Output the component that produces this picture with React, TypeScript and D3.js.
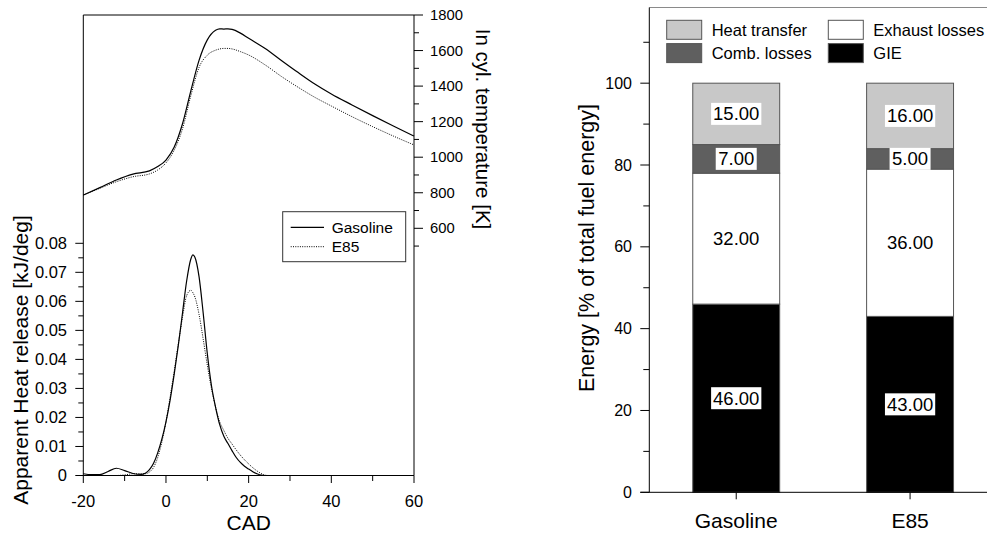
import React from "react";
import * as d3 from "d3";

// ---------- Left panel data ----------
const cadT = [-20, -16, -12, -8, -4, -2, 0, 2, 4, 6, 8, 10, 12, 13, 14, 15, 16, 18, 20, 24, 28, 32, 36, 40, 45, 50, 55, 60];
const gasTemp = [787, 829, 872, 905, 923, 947, 984, 1057, 1188, 1372, 1545, 1660, 1714, 1722, 1721, 1722, 1719, 1698, 1669, 1612, 1543, 1476, 1412, 1356, 1294, 1234, 1176, 1119];
const e85Temp = [787, 825, 862, 890, 906, 928, 968, 1040, 1160, 1345, 1505, 1574, 1602, 1609, 1612, 1612, 1609, 1594, 1575, 1519, 1453, 1393, 1337, 1288, 1228, 1172, 1119, 1069];

const cadH = [-20, -18, -16, -14, -12, -10, -8, -6, -5, -4, -3, -2, -1, 0, 1, 2, 3, 4, 5, 6, 6.5, 7, 8, 9, 10, 11, 12, 13, 14, 15, 16, 17, 18, 19, 20, 21, 22, 23, 24, 25, 30, 40, 50, 60];
const gasHRR = [0.0006, 0.0003, 0.0003, 0.0014, 0.0025, 0.0017, 0.0007, 0.0004, 0.0008, 0.002, 0.0042, 0.0078, 0.0125, 0.0185, 0.026, 0.035, 0.045, 0.056, 0.067, 0.0745, 0.076, 0.0752, 0.0685, 0.056, 0.042, 0.031, 0.0235, 0.0175, 0.0135, 0.011, 0.0085, 0.0062, 0.0045, 0.0032, 0.0022, 0.0013, 0.0006, 0.0001, 0, 0, 0, 0, 0, 0];
const e85HRR = [0, 0, 0, 0, 0, 0.0002, 0.0006, 0.0006, 0.0006, 0.0012, 0.0028, 0.0062, 0.0115, 0.0185, 0.027, 0.036, 0.0455, 0.0545, 0.062, 0.0638, 0.063, 0.0615, 0.0555, 0.047, 0.038, 0.03, 0.0235, 0.0185, 0.0155, 0.0128, 0.0108, 0.0088, 0.007, 0.0054, 0.004, 0.0027, 0.0016, 0.0007, 0.0001, 0, 0, 0, 0, 0];

const xTicks = [-20, -10, 0, 10, 20, 30, 40, 50, 60];
const hrrTicks = [0, 0.005, 0.01, 0.015, 0.02, 0.025, 0.03, 0.035, 0.04, 0.045, 0.05, 0.055, 0.06, 0.065, 0.07, 0.075, 0.08];
const tempTicks = [500, 600, 700, 800, 900, 1000, 1100, 1200, 1300, 1400, 1500, 1600, 1700, 1800];
const lineSeries = ["Gasoline", "E85"];

// ---------- Right panel data ----------
const fuels = ["Gasoline", "E85"];
const components = ["GIE", "Exhaust losses", "Comb. losses", "Heat transfer"];
const gieVals = [46, 43];
const exhaustVals = [32, 36];
const combVals = [7, 5];
const heatVals = [15, 16];
const energyTicks = [0, 10, 20, 30, 40, 50, 60, 70, 80, 90, 100, 110];
const compColors = ["#000000", "#ffffff", "#5f5f5f", "#c8c8c8"];

const FONT = "'Liberation Sans', Arial, Helvetica, sans-serif";

export default function App() {
  // left scales
  const x = d3.scaleLinear().domain([-20, 60]).range([83.3, 414]);
  const yH = d3.scaleLinear().domain([0, 0.08]).range([475.5, 243.3]);
  const yT = d3.scaleLinear().domain([600, 1800]).range([228.3, 15]);

  const tLine = d3.line<number>().x((_, i) => x(cadT[i])).y((d) => yT(d)).curve(d3.curveMonotoneX);
  const hLine = d3.line<number>().x((_, i) => x(cadH[i])).y((d) => yH(d)).curve(d3.curveMonotoneX);

  // right scales
  const xb = d3.scaleBand<string>().domain(fuels).range([649.3, 997]).paddingInner(0.5).paddingOuter(0.25);
  const yE = d3.scaleLinear().domain([0, 118.5]).range([492.3, 7.5]);

  const valsByComp = [gieVals, exhaustVals, combVals, heatVals];
  const table = fuels.map((f, i) => {
    const row: any = { fuel: f };
    components.forEach((c, k) => (row[c] = valsByComp[k][i]));
    return row;
  });
  const stacked = d3.stack<any>().keys(components)(table);

  const fmtH = (v: number) => (v === 0 ? "0" : d3.format(".2f")(v));
  const isMajor = (v: number, step: number) => Math.abs(v / step - Math.round(v / step)) < 1e-6;

  return (
    <svg width={987} height={533} style={{ position: "absolute", left: 0, top: 0, fontFamily: FONT }}>
      <rect x={0} y={0} width={987} height={533} fill="#fff" />

      {/* ===== LEFT PANEL ===== */}
      <g>
        {/* frame */}
        <line x1={x(-20)} x2={x(60)} y1={15} y2={15} stroke="#000" strokeWidth={1} />
        <line x1={x(-20)} x2={x(-20)} y1={15} y2={475.5} stroke="#000" strokeWidth={1} />
        <line x1={x(60)} x2={x(60)} y1={15} y2={475.5} stroke="#000" strokeWidth={1} />
        <line x1={x(-20)} x2={x(60)} y1={475.5} y2={475.5} stroke="#000" strokeWidth={1} />

        {/* bottom ticks */}
        {xTicks.map((t) => {
          const maj = isMajor(t, 20);
          return (
            <g key={"xt" + t}>
              <line x1={x(t)} x2={x(t)} y1={475.5} y2={475.5 + (maj ? 7.5 : 5.5)} stroke="#000" />
              {maj && (
                <text x={x(t)} y={507} fontSize={16.5} textAnchor="middle">
                  {t}
                </text>
              )}
            </g>
          );
        })}
        <text x={x(20)} y={530} fontSize={21} textAnchor="middle">CAD</text>

        {/* left HRR ticks */}
        {hrrTicks.map((t) => {
          const maj = isMajor(t, 0.01);
          return (
            <g key={"ht" + t}>
              <line x1={x(-20) - (maj ? 8 : 5)} x2={x(-20)} y1={yH(t)} y2={yH(t)} stroke="#000" />
              {maj && (
                <text x={67} y={yH(t) + 5.5} fontSize={16.5} textAnchor="end">
                  {fmtH(t)}
                </text>
              )}
            </g>
          );
        })}
        <text transform={`translate(28,360) rotate(-90)`} fontSize={21} textAnchor="middle">
          Apparent Heat release [kJ/deg]
        </text>

        {/* right temperature ticks */}
        {tempTicks.map((t) => {
          const maj = isMajor(t, 200);
          return (
            <g key={"tt" + t}>
              <line x1={x(60)} x2={x(60) + (maj ? 9 : 5)} y1={yT(t)} y2={yT(t)} stroke="#000" />
              {maj && (
                <text x={430} y={yT(t) + 5} fontSize={14.8}>
                  {t}
                </text>
              )}
            </g>
          );
        })}
        <text transform={`translate(476,129) rotate(90)`} fontSize={20.5} textAnchor="middle">
          In cyl. temperature [K]
        </text>

        {/* curves */}
        <path d={tLine(gasTemp) || ""} fill="none" stroke="#000" strokeWidth={1.2} />
        <path d={tLine(e85Temp) || ""} fill="none" stroke="#000" strokeWidth={1} strokeDasharray="1,1.3" />
        <path d={hLine(gasHRR) || ""} fill="none" stroke="#000" strokeWidth={1.2} />
        <path d={hLine(e85HRR) || ""} fill="none" stroke="#000" strokeWidth={1} strokeDasharray="1,1.3" />

        {/* legend */}
        <rect x={282.7} y={211.7} width={123} height={50} fill="#fff" stroke="#333" strokeWidth={1} />
        {lineSeries.map((s, i) => (
          <g key={"lg" + s}>
            <line
              x1={290.7}
              x2={324}
              y1={227.3 + i * 19.4}
              y2={227.3 + i * 19.4}
              stroke="#000"
              strokeWidth={i === 0 ? 1.2 : 1}
              strokeDasharray={i === 0 ? undefined : "1,1.3"}
            />
            <text x={331.7} y={227.3 + i * 19.4 + 5.3} fontSize={15.5}>
              {s}
            </text>
          </g>
        ))}
      </g>

      {/* ===== RIGHT PANEL ===== */}
      <g>
        <line x1={649.3} x2={987} y1={yE(118.5)} y2={yE(118.5)} stroke="#8a8a8a" strokeWidth={1} />

        {/* bars */}
        {stacked.map((layer, k) => (
          <g key={"layer" + k}>
            {layer.map((d, i) => (
              <rect
                key={"b" + k + i}
                x={xb(fuels[i])!}
                y={yE(d[1])}
                width={xb.bandwidth()}
                height={yE(d[0]) - yE(d[1])}
                fill={compColors[k]}
                stroke="#555"
                strokeWidth={1}
              />
            ))}
          </g>
        ))}

        {/* bar labels */}
        {stacked.map((layer, k) => (
          <g key={"lab" + k}>
            {layer.map((d, i) => {
              const v = d[1] - d[0];
              const txt = d3.format(".2f")(v);
              const cx = xb(fuels[i])! + xb.bandwidth() / 2;
              const cy = yE((d[0] + d[1]) / 2);
              const w = txt.length * 18.5 * 0.5 + 4;
              return (
                <g key={"l" + k + i}>
                  <rect x={cx - w / 2} y={cy - 11} width={w} height={22} fill="#fff" />
                  <text x={cx} y={cy + 6.5} fontSize={18.5} textAnchor="middle">
                    {txt}
                  </text>
                </g>
              );
            })}
          </g>
        ))}

        {/* y axis */}
        <line x1={649.3} x2={649.3} y1={yE(118.5)} y2={yE(0)} stroke="#000" />
        {energyTicks.map((t) => {
          const maj = isMajor(t, 20);
          return (
            <g key={"et" + t}>
              <line x1={649.3 - (maj ? 9 : 6)} x2={649.3} y1={yE(t)} y2={yE(t)} stroke="#000" />
              {maj && (
                <text x={632} y={yE(t) + 5.5} fontSize={16} textAnchor="end">
                  {t}
                </text>
              )}
            </g>
          );
        })}
        <text transform={`translate(593.5,248) rotate(-90)`} fontSize={21.5} textAnchor="middle">
          Energy [% of total fuel energy]
        </text>

        {/* x axis */}
        <line x1={640.3} x2={987} y1={yE(0)} y2={yE(0)} stroke="#000" />
        {fuels.map((f) => {
          const cx = xb(f)! + xb.bandwidth() / 2;
          return (
            <g key={"xc" + f}>
              <line x1={cx} x2={cx} y1={yE(0)} y2={yE(0) + 7} stroke="#000" />
              <text x={cx} y={528} fontSize={21} textAnchor="middle">
                {f}
              </text>
            </g>
          );
        })}

        {/* legend */}
        {[3, 2, 1, 0].map((k, j) => {
          const col = j < 2 ? 0 : 1;
          const row = j % 2;
          const sx = col === 0 ? 666.7 : 828.3;
          const sy = 20.3 + row * 23.3;
          return (
            <g key={"leg" + k}>
              <rect x={sx} y={sy} width={35} height={19} fill={compColors[k]} stroke="#555" strokeWidth={1} />
              <text x={sx + 45} y={sy + 15.3} fontSize={16.5}>
                {components[k]}
              </text>
            </g>
          );
        })}
      </g>
    </svg>
  );
}
